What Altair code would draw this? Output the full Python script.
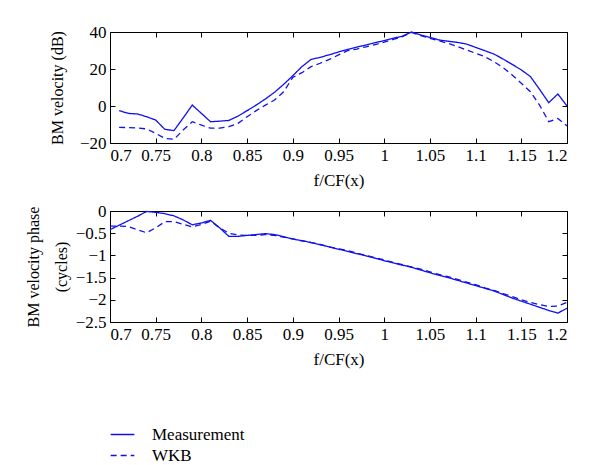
import altair as alt
import pandas as pd

# ---------------- data ----------------
f_top = [0.71, 0.72, 0.73, 0.74, 0.75, 0.76, 0.77, 0.78, 0.79, 0.80,
         0.81, 0.82, 0.83, 0.84, 0.85, 0.86, 0.87, 0.88, 0.89, 0.90,
         0.91, 0.92, 0.93, 0.94, 0.95, 0.96, 0.97, 0.98, 0.99, 1.00,
         1.01, 1.02, 1.03, 1.04, 1.05, 1.06, 1.07, 1.08, 1.09, 1.10,
         1.11, 1.12, 1.13, 1.14, 1.15, 1.16, 1.17, 1.18, 1.19, 1.20]
mag_meas = [-2.5, -4.0, -4.3, -5.8, -7.6, -12.6, -13.3, -6.5, 0.5, -4.0,
            -8.5, -8.2, -7.8, -5.5, -2.5, 0.5, 3.8, 7.4, 11.7, 16.4,
            21.3, 25.2, 26.3, 27.7, 29.2, 30.6, 31.8, 33.0, 34.2, 35.4,
            36.6, 37.8, 40.0, 38.4, 37.1, 35.7, 35.0, 34.4, 33.5, 31.7,
            29.9, 28.1, 25.4, 22.5, 19.5, 15.9, 9.0, 1.8, 6.5, 0.0]
mag_wkb = [-11.5, -11.7, -11.8, -12.4, -14.8, -17.5, -18.0, -13.0, -8.5, -10.3,
           -12.0, -12.0, -11.2, -9.4, -5.8, -2.5, 0.5, 3.2, 7.7, 15.5,
           18.0, 21.3, 23.1, 25.2, 27.6, 29.9, 30.8, 32.0, 33.2, 34.5,
           36.0, 37.5, 39.8, 38.0, 36.6, 35.2, 33.9, 32.2, 30.3, 28.5,
           26.7, 24.0, 20.8, 16.8, 12.3, 7.7, 0.5, -8.5, -6.7, -10.8]

f_bot = [0.70, 0.71, 0.72, 0.73, 0.74, 0.75, 0.76, 0.77, 0.78, 0.79, 0.80,
         0.81, 0.82, 0.83, 0.84, 0.85, 0.86, 0.87, 0.88, 0.89, 0.90,
         0.91, 0.92, 0.93, 0.94, 0.95, 0.96, 0.97, 0.98, 0.99, 1.00,
         1.01, 1.02, 1.03, 1.04, 1.05, 1.06, 1.07, 1.08, 1.09, 1.10,
         1.11, 1.12, 1.13, 1.14, 1.15, 1.16, 1.17, 1.18, 1.19, 1.20]
ph_meas = [-0.42, -0.32, -0.22, -0.12, -0.01, -0.03, -0.06, -0.11, -0.20, -0.31, -0.27,
           -0.21, -0.38, -0.57, -0.57, -0.55, -0.53, -0.51, -0.53, -0.58, -0.63,
           -0.67, -0.71, -0.76, -0.81, -0.86, -0.91, -0.96, -1.01, -1.06, -1.12,
           -1.17, -1.22, -1.27, -1.33, -1.39, -1.45, -1.50, -1.56, -1.62, -1.68,
           -1.74, -1.80, -1.88, -1.96, -2.03, -2.10, -2.17, -2.24, -2.30, -2.19]
ph_wkb = [-0.34, -0.34, -0.35, -0.42, -0.49, -0.38, -0.24, -0.24, -0.30, -0.36, -0.30,
          -0.23, -0.38, -0.50, -0.54, -0.55, -0.55, -0.53, -0.55, -0.59, -0.63,
          -0.67, -0.71, -0.75, -0.81, -0.85, -0.89, -0.95, -1.00, -1.05, -1.10,
          -1.16, -1.21, -1.26, -1.31, -1.37, -1.43, -1.48, -1.54, -1.60, -1.66,
          -1.73, -1.79, -1.86, -1.93, -2.00, -2.06, -2.11, -2.15, -2.14, -2.06]

series = ["Measurement", "WKB"]
x_ticks = [0.7, 0.75, 0.8, 0.85, 0.9, 0.95, 1.0, 1.05, 1.1, 1.15, 1.2]
y_ticks_top = [-20, 0, 20, 40]
y_ticks_bot = [-2.5, -2, -1.5, -1, -0.5, 0]

df_top = pd.concat([
    pd.DataFrame({"f": f_top, "v": mag_meas, "s": series[0]}),
    pd.DataFrame({"f": f_top, "v": mag_wkb, "s": series[1]}),
])
df_bot = pd.concat([
    pd.DataFrame({"f": f_bot, "v": ph_meas, "s": series[0]}),
    pd.DataFrame({"f": f_bot, "v": ph_wkb, "s": series[1]}),
])

BLUE = "#1010ee"
FONT = "Liberation Serif"


def panel(df, ytitle, ydomain, yticks, ytitle_pad, legend):
    xs = alt.Scale(domain=[0.7, 1.2], nice=False, zero=False)
    ys = alt.Scale(domain=ydomain, nice=False, zero=False)
    dash = alt.StrokeDash(
        "s:N",
        scale=alt.Scale(domain=series, range=[[1, 0], [6, 4]]),
        legend=legend,
    )
    main = alt.Chart(df).mark_line(color=BLUE, strokeWidth=1.3).encode(
        x=alt.X("f:Q", scale=xs,
                axis=alt.Axis(orient="bottom", values=x_ticks, format="~f",
                              title="f/CF(x)", titlePadding=9, titleFontSize=17)),
        y=alt.Y("v:Q", scale=ys,
                axis=alt.Axis(orient="left", values=yticks, format="~f",
                              title=ytitle, titlePadding=ytitle_pad, titleLineHeight=28)),
        strokeDash=dash,
        order="f:Q",
    )
    frame = alt.Chart(df).mark_line(opacity=0).encode(
        x=alt.X("f:Q", scale=xs,
                axis=alt.Axis(orient="top", values=x_ticks, labels=False, title=None)),
        y=alt.Y("v:Q", scale=ys,
                axis=alt.Axis(orient="right", values=yticks, labels=False, title=None)),
        detail="s:N",
    )
    return alt.layer(main, frame).resolve_axis(x="independent", y="independent").properties(
        width=457, height=111)


top = panel(df_top, "BM velocity (dB)", [-20, 40], y_ticks_top, 14, None)
bot = panel(
    df_bot, ["BM velocity phase", "(cycles)"], [-2.5, 0], y_ticks_bot, 6,
    alt.Legend(title=None, orient="none", legendX=0, legendY=211,
               symbolType="stroke", symbolStrokeColor=BLUE, symbolStrokeWidth=1.3,
               symbolSize=560, labelFont=FONT, labelFontSize=17, labelColor="black",
               rowPadding=-3, labelOffset=17, labelLimit=200),
)

chart = alt.vconcat(top, bot, spacing=12).resolve_scale(strokeDash="independent").properties(
    padding={"left": 16, "top": 14, "right": 5, "bottom": 5}
).configure_view(
    stroke="black", strokeWidth=1
).configure_axis(
    domain=False, grid=False, ticks=True, tickColor="black", tickSize=5, offset=-5,
    tickWidth=1, labelPadding=5,
    labelFont=FONT, labelFontSize=17, labelColor="black",
    titleFont=FONT, titleFontSize=16, titleFontWeight="normal", titleColor="black",
).configure_axisLeft(labelPadding=4).configure_axisBottom(labelPadding=4)

chart.save("out.html", embed_options={"renderer": "svg", "actions": False})
